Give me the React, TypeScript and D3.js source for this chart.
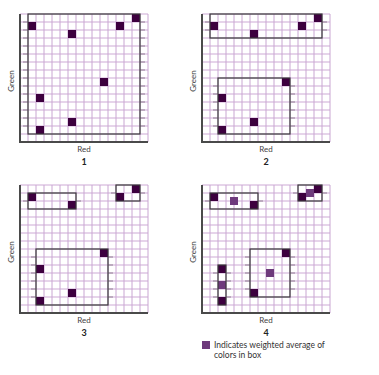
import { useEffect, useRef } from 'react'
import * as d3 from 'd3'

// cell positions of the colour samples: [red, green] (cell lower-left corner)
const samples: [number, number][] = [
  [1, 14], [6, 13], [12, 14], [14, 15], [10, 7], [2, 5], [6, 2], [2, 1],
]

// boxes per panel: [red0, red1, green0, green1] in cell edges
const boxes1 = [[1, 15, 1, 16]]
const boxes2 = [[1, 15, 13, 16], [2, 11, 1, 8]]
const boxes3 = [[1, 7, 13, 15], [12, 15, 14, 16], [2, 11, 1, 8]]
const boxes4 = [[1, 7, 13, 15], [12, 15, 14, 16], [2, 3, 1, 6], [6, 11, 2, 8]]

// weighted averages shown in panel 4
const averages4: [number, number][] = [[3.5, 13.5], [13, 14.5], [2, 3], [8, 4.5]]

const panelLabels = ['1', '2', '3', '4']
const N = 16
const CELL = 8
const origins = [[20, 14], [202, 14], [20, 185], [202, 185]]

const DARK = '#3d003f'
const AVG = '#6e3a7c'

export default function App() {
  const svgRef = useRef(null)

  useEffect(() => {
    const svg = d3.select(svgRef.current)
    svg.selectAll('*').remove()
    const font = 'Lato, "DejaVu Sans", sans-serif'
    const allBoxes = [boxes1, boxes2, boxes3, boxes4]

    origins.forEach(([ox, oy], pi) => {
      const size = N * CELL
      const x = d3.scaleLinear().domain([0, N]).range([ox, ox + size])
      const y = d3.scaleLinear().domain([0, N]).range([oy + size, oy])
      const g = svg.append('g')
      const ticks = d3.range(0, N + 1)

      // horizontal grid
      ticks.forEach(t => {
        g.append('line')
          .attr('x1', x(0)).attr('x2', x(N))
          .attr('y1', y(t)).attr('y2', y(t))
          .attr('stroke', '#e6d4ea').attr('stroke-width', 2)
      })
      // vertical grid
      ticks.forEach(t => {
        g.append('line')
          .attr('x1', x(t)).attr('x2', x(t))
          .attr('y1', y(0)).attr('y2', y(N))
          .attr('stroke', '#c9a6d2').attr('stroke-width', 1)
      })

      // box ticks
      allBoxes[pi].forEach(([r0, r1, g0, g1]) => {
        d3.range(g0, g1).forEach(t => {
          if (t === g0) return
          g.append('line')
            .attr('x1', x(r0) - 5).attr('x2', x(r0))
            .attr('y1', y(t)).attr('y2', y(t))
            .attr('stroke', '#bcaabf').attr('stroke-width', 2)
          g.append('line')
            .attr('x1', x(r1)).attr('x2', x(r1) + 5)
            .attr('y1', y(t)).attr('y2', y(t))
            .attr('stroke', '#bcaabf').attr('stroke-width', 2)
        })
      })

      // samples
      samples.forEach(([r, gr]) => {
        g.append('rect')
          .attr('x', x(r)).attr('y', y(gr + 1))
          .attr('width', x(r + 1) - x(r)).attr('height', y(gr) - y(gr + 1))
          .attr('fill', DARK)
      })

      if (pi === 3) {
        averages4.forEach(([r, gr]) => {
          g.append('rect')
            .attr('x', x(r)).attr('y', y(gr + 1))
            .attr('width', x(r + 1) - x(r)).attr('height', y(gr) - y(gr + 1))
            .attr('fill', AVG)
        })
      }

      // boxes
      allBoxes[pi].forEach(([r0, r1, g0, g1]) => {
        g.append('rect')
          .attr('x', x(r0)).attr('y', y(g1))
          .attr('width', x(r1) - x(r0)).attr('height', y(g0) - y(g1))
          .attr('fill', 'none').attr('stroke', '#3a3a3a').attr('stroke-width', 1.2)
      })

      // axes
      g.append('line')
        .attr('x1', x(0)).attr('x2', x(0)).attr('y1', y(N)).attr('y2', y(0) + 1)
        .attr('stroke', '#4a4a4a').attr('stroke-width', 2)
      g.append('line')
        .attr('x1', x(0)).attr('x2', x(N)).attr('y1', y(0)).attr('y2', y(0))
        .attr('stroke', '#4a4a4a').attr('stroke-width', 2)

      g.append('text')
        .attr('x', x(N / 2)).attr('y', y(0) + 10)
        .attr('text-anchor', 'middle').attr('font-size', 8)
        .attr('font-family', font).attr('fill', '#444')
        .text('Red')
      g.append('text')
        .attr('x', x(N / 2)).attr('y', y(0) + 23)
        .attr('text-anchor', 'middle').attr('font-size', 9).attr('font-weight', 700)
        .attr('font-family', font).attr('fill', '#222')
        .text(panelLabels[pi])
      g.append('text')
        .attr('transform', `translate(${x(0) - 6},${y(N / 2) + 3}) rotate(-90)`)
        .attr('text-anchor', 'middle').attr('font-size', 8)
        .attr('font-family', font).attr('fill', '#444')
        .text('Green')
    })

    // legend
    svg.append('rect')
      .attr('x', 202).attr('y', 341).attr('width', 8).attr('height', 8)
      .attr('fill', AVG)
    svg.append('text')
      .attr('x', 214).attr('y', 348).attr('font-size', 8.5)
      .attr('font-family', font).attr('fill', '#333')
      .text('Indicates weighted average of')
    svg.append('text')
      .attr('x', 214).attr('y', 357.5).attr('font-size', 8.5)
      .attr('font-family', font).attr('fill', '#333')
      .text('colors in box')
  }, [])

  return (
    <svg ref={svgRef} width={379} height={375}
      style={{ position: 'absolute', left: 0, top: 0, background: '#fff' }} />
  )
}
